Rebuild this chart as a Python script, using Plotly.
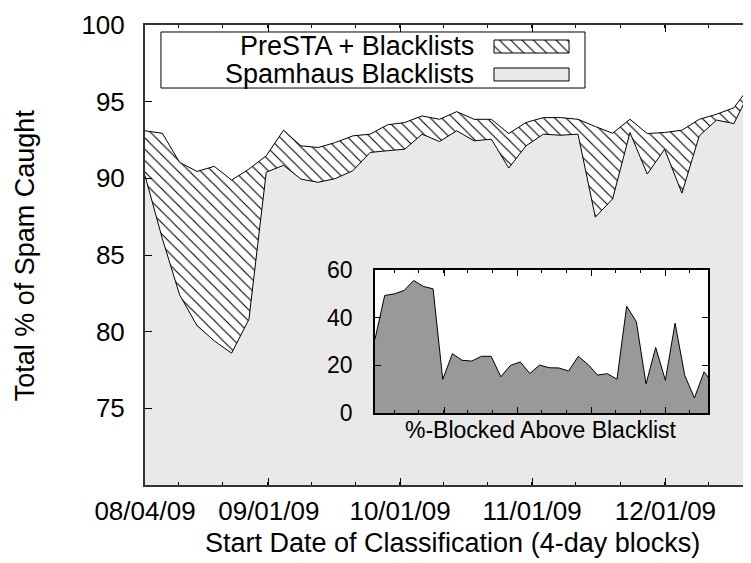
import plotly.graph_objects as go

# ---- data ----
# start day (days after 08/04/09) of each 4-day classification block
block_day = [0, 4, 8, 12, 16, 20, 24, 28, 32, 36, 40, 44, 48, 52, 56, 60, 64, 68,
             72, 76, 80, 84, 88, 92, 96, 100, 104, 108, 112, 116, 120, 124, 128,
             132, 136, 140, 144]

presta_blacklists = [93.10, 92.94, 91.04, 90.45, 90.78, 89.89, 90.60, 91.47, 93.14,
                     92.12, 92.01, 92.34, 92.77, 92.88, 93.49, 93.64, 94.07, 93.85,
                     94.35, 93.85, 93.85, 92.92, 93.64, 93.96, 93.96, 93.85, 93.38,
                     92.94, 93.85, 92.92, 92.99, 93.14, 93.85, 94.18, 94.60, 96.12,
                     96.15]

spamhaus_blacklists = [90.18, 86.07, 82.40, 80.40, 79.40, 78.60, 80.80, 90.40, 90.85,
                       89.95, 89.74, 89.99, 90.50, 91.69, 91.80, 91.90, 92.88, 92.40,
                       93.10, 92.45, 92.55, 90.67, 92.12, 92.88, 92.81, 92.88, 87.47,
                       88.66, 92.99, 90.28, 91.90, 89.03, 92.77, 93.80, 93.57, 95.86,
                       96.05]

pct_blocked_above = [31.0, 49.3, 50.0, 51.4, 55.6, 53.1, 52.1, 14.1, 24.9, 22.1, 21.8,
                     23.8, 23.8, 15.2, 20.0, 21.4, 16.6, 20.1, 19.0, 18.9, 17.6, 23.8,
                     20.4, 15.9, 16.5, 14.2, 44.8, 38.3, 12.2, 27.5, 13.7, 37.7, 15.8,
                     6.3, 17.3, 11.8, 11.0]

x_tick_vals = [0, 28.6, 58.9, 89.4, 120.2]
x_tick_text = ["08/04/09", "09/01/09", "10/01/09", "11/01/09", "12/01/09"]
x_minor_vals = [7.85, 18.0, 28.2, 38.4, 48.6, 58.8, 69.0, 79.1, 89.3, 99.5, 109.7,
                119.9, 130.1, 140.3]
y_tick_vals = [75, 80, 85, 90, 95, 100]
inset_y_ticks = [0, 20, 40, 60]

MAIN_X_MAX = 141.8
INSET_X_MAX = 137.6
INSET_Y_MAX = 60

FONT = "Liberation Sans, Arial, Helvetica, sans-serif"
GRAY_LIGHT = "#e9e9e9"
GRAY_DARK = "#999999"
AXIS_COL = "#333333"

hatch = dict(shape="\\", fgcolor="black", bgcolor="white", size=8, solidity=0.14,
             fillmode="replace")

fig = go.Figure()

# main chart
fig.add_trace(go.Scatter(x=block_day, y=spamhaus_blacklists, mode="lines",
                         line=dict(color="black", width=1), fill="tozeroy",
                         fillcolor=GRAY_LIGHT, xaxis="x", yaxis="y", hoverinfo="skip"))
fig.add_trace(go.Scatter(x=block_day, y=presta_blacklists, mode="lines",
                         line=dict(color="black", width=1), fill="tonexty",
                         fillpattern=hatch, xaxis="x", yaxis="y", hoverinfo="skip"))

# inset background + series
fig.add_trace(go.Scatter(x=[0, INSET_X_MAX], y=[INSET_Y_MAX, INSET_Y_MAX], mode="lines",
                         line=dict(width=0), fill="tozeroy", fillcolor="white",
                         xaxis="x2", yaxis="y2", hoverinfo="skip"))
fig.add_trace(go.Scatter(x=block_day, y=pct_blocked_above, mode="lines",
                         line=dict(color="black", width=1), fill="tozeroy",
                         fillcolor=GRAY_DARK, xaxis="x2", yaxis="y2", hoverinfo="skip"))

# legend geometry (fractions of the plot area)
L_BOX = (0.026, 0.7166, 0.863, 0.9848)
S_X = (0.5684, 0.6906)
S_ROW1 = (0.9391, 0.9674)
S_ROW2 = (0.8783, 0.9065)
TXT_X = 0.5390
TXT_Y = (0.9543, 0.8935)

fig.add_trace(go.Scatter(x=[S_X[0], S_X[1], S_X[1], S_X[0], S_X[0]],
                         y=[S_ROW1[0], S_ROW1[0], S_ROW1[1], S_ROW1[1], S_ROW1[0]],
                         mode="lines", line=dict(color="black", width=1), fill="toself",
                         fillpattern=hatch, xaxis="x3", yaxis="y3", hoverinfo="skip"))

fig.update_layout(
    width=751, height=563,
    margin=dict(l=137, r=0, t=17, b=86),
    plot_bgcolor="white", paper_bgcolor="white",
    showlegend=False,
    font=dict(family=FONT, size=26, color="black"),
    xaxis=dict(range=[0, MAIN_X_MAX], tickmode="array", tickvals=x_tick_vals,
               ticktext=x_tick_text, ticks="inside", ticklen=7, tickwidth=1,
               tickcolor="black", showline=True, linecolor=AXIS_COL, linewidth=2,
               mirror="ticks", showgrid=False, zeroline=False,
               tickfont=dict(size=26), ticklabelstandoff=2,
               minor=dict(tickmode="array", tickvals=x_minor_vals, ticks="inside",
                          ticklen=3, tickcolor="black", showgrid=False)),
    yaxis=dict(range=[70, 100], tickmode="array", tickvals=y_tick_vals, ticks="inside",
               ticklen=7, tickwidth=1, tickcolor="black", showline=True,
               linecolor=AXIS_COL, linewidth=2, mirror=False, showgrid=False,
               zeroline=False, tickfont=dict(size=26), ticklabelstandoff=13),
    xaxis2=dict(domain=[0.3746, 0.9169], anchor="y2", range=[0, INSET_X_MAX],
                tickmode="array", tickvals=x_tick_vals, showticklabels=False,
                ticks="inside", ticklen=6, tickcolor="black", showline=True,
                linecolor="black", linewidth=1.5, mirror="ticks", showgrid=False,
                zeroline=False,
                minor=dict(tickmode="array", tickvals=x_minor_vals, ticks="inside",
                           ticklen=3, tickcolor="black", showgrid=False)),
    yaxis2=dict(domain=[0.1565, 0.4674], anchor="x2", range=[0, INSET_Y_MAX],
                tickmode="array", tickvals=inset_y_ticks, ticks="inside", ticklen=6,
                tickcolor="black", showline=True, linecolor="black", linewidth=1.5,
                mirror="ticks", showgrid=False, zeroline=False,
                tickfont=dict(size=23), ticklabelstandoff=16),
    xaxis3=dict(overlaying="x", anchor="y3", range=[0, 1], visible=False),
    yaxis3=dict(overlaying="y", anchor="x3", range=[0, 1], visible=False),
    shapes=[
        dict(type="rect", xref="paper", yref="paper", x0=L_BOX[0], x1=L_BOX[1],
             y0=L_BOX[2], y1=L_BOX[3], line=dict(color="black", width=1),
             fillcolor="white", layer="below"),
        dict(type="rect", xref="paper", yref="paper", x0=S_X[0], x1=S_X[1],
             y0=S_ROW2[0], y1=S_ROW2[1], line=dict(color="black", width=1),
             fillcolor=GRAY_LIGHT, layer="above"),
    ],
    annotations=[
        dict(text="PreSTA + Blacklists", xref="paper", yref="paper", x=TXT_X,
             y=TXT_Y[0], xanchor="right", yanchor="middle", showarrow=False,
             font=dict(size=27)),
        dict(text="Spamhaus Blacklists", xref="paper", yref="paper", x=TXT_X,
             y=TXT_Y[1], xanchor="right", yanchor="middle", showarrow=False,
             font=dict(size=27)),
        dict(text="Start Date of Classification (4-day blocks)", xref="paper",
             yref="paper", x=0.5, y=-0.125, xanchor="center", yanchor="middle",
             showarrow=False, font=dict(size=27)),
        dict(text="Total % of Spam Caught", xref="paper", yref="paper", x=-0.195,
             y=0.5, xanchor="center", yanchor="middle", textangle=-90,
             showarrow=False, font=dict(size=27)),
        dict(text="%-Blocked Above Blacklist", xref="paper", yref="paper", x=0.645,
             y=0.1196, xanchor="center", yanchor="middle", showarrow=False,
             font=dict(size=23)),
    ],
)

fig.write_html("out.html")
